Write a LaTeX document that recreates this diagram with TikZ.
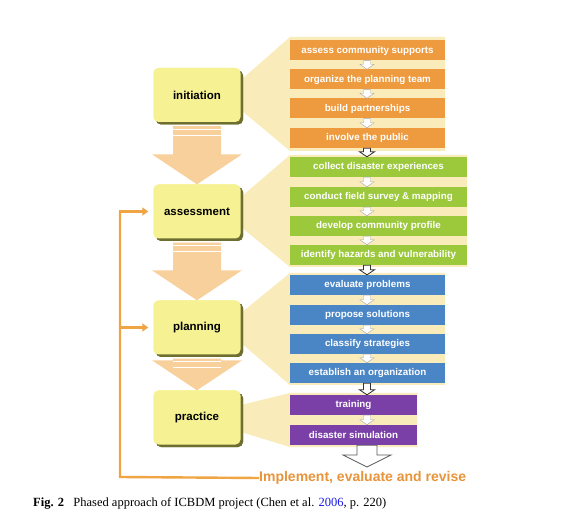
\documentclass[tikz,border=0pt]{standalone}
\usepackage{fontspec}
\setmainfont{Liberation Serif}
\newfontfamily\arialfont{Liberation Sans}
\usetikzlibrary{calc,shadows,arrows.meta}
\definecolor{cOrange}{HTML}{EE9A3E}
\definecolor{cGreen}{HTML}{9CC83C}
\definecolor{cBlue}{HTML}{4A86C6}
\definecolor{cPurple}{HTML}{7A40A8}
\definecolor{cFan}{HTML}{FAEBBA}
\definecolor{cBig}{HTML}{F8D09C}
\definecolor{cPhase}{HTML}{F6F293}
\definecolor{cShadow}{HTML}{6E6E30}
\definecolor{cFb}{HTML}{F0A545}
\definecolor{cFbText}{HTML}{E8943A}
\definecolor{cLink}{HTML}{1A1AE6}
\newcommand\dnarrow[6]{% style, top, bottom, shaft half width, head half width, head length
  \path[#1] let \p1=(#2), \p2=(#3) in
    (\x1-#4,\y1) -- (\x1+#4,\y1) -- (\x1+#4,\y2+#6) -- (\x1+#5,\y2+#6) --
    (\x1,\y2) -- (\x1-#5,\y2+#6) -- (\x1-#4,\y2+#6) -- cycle;}
\tikzset{
  phase/.style={draw=none, fill=cPhase, rounded corners=5pt, minimum width=87pt,
    minimum height=54pt, font=\arialfont\bfseries\fontsize{11.5}{13}\selectfont,
    drop shadow={shadow xshift=2.5pt, shadow yshift=-2.5pt, fill=cShadow, opacity=1}},
  rbox/.style={minimum height=20pt, inner sep=0pt, text=white,
    font=\arialfont\bfseries\fontsize{9.8}{11}\selectfont},
  obox/.style={rbox, fill=cOrange, minimum width=155pt},
  gbox/.style={rbox, fill=cGreen, minimum width=177pt},
  bbox/.style={rbox, fill=cBlue, minimum width=155pt},
  pbox/.style={rbox, fill=cPurple, minimum width=127pt},
  fan/.style={fill=cFan},
  bigarrow/.style={fill=cBig},
  smallarrow/.style={fill=white, draw=black!35, line width=0.4pt},
  grouparrow/.style={fill=white, draw=black!80, line width=0.8pt},
  finalarrow/.style={fill=white, draw=black!65, line width=0.8pt},
  fbline/.style={draw=cFb, line width=2.4pt},
  fbarrow/.style={fbline, -{Triangle[width=8pt,length=6pt]}},
}
\begin{document}
\begin{tikzpicture}[x=1pt,y=-1pt]
\useasboundingbox[fill=white] (0,0) rectangle (566,532);
% fans
\fill[cFan] (241,80) -- (290,37) -- (445,37) -- (445,151) -- (290,151) -- (241,110) -- cycle;
\fill[cFan] (241,197) -- (290,155) -- (467,155) -- (467,267) -- (290,267) -- (241,227) -- cycle;
\fill[cFan] (241,313) -- (290,273) -- (445,273) -- (445,385) -- (290,385) -- (241,343) -- cycle;
\fill[cFan] (241,405) -- (290,393) -- (417,393) -- (417,447) -- (290,447) -- (241,432) -- cycle;
% right boxes
\node[obox] (o1) at (367.5,50.5) {assess community supports};
\node[obox] (o2) at (367.5,79.5) {organize the planning team};
\node[obox] (o3) at (367.5,108.5) {build partnerships};
\node[obox] (o4) at (367.5,138) {involve the public};
\node[gbox] (g1) at (378.5,167) {collect disaster experiences};
\node[gbox] (g2) at (378.5,197) {conduct field survey \& mapping};
\node[gbox] (g3) at (378.5,226) {develop community profile};
\node[gbox] (g4) at (378.5,255) {identify hazards and vulnerability};
\node[bbox] (b1) at (367.5,285) {evaluate problems};
\node[bbox] (b2) at (367.5,315) {propose solutions};
\node[bbox] (b3) at (367.5,344) {classify strategies};
\node[bbox] (b4) at (367.5,373) {establish an organization};
\node[pbox] (p1) at (353.5,405) {training};
\node[pbox] (p2) at (353.5,435) {disaster simulation};
% small arrows inside groups
\foreach \a/\b in {o1/o2,o2/o3,o3/o4,g1/g2,g2/g3,g3/g4,b1/b2,b2/b3,b3/b4,p1/p2}{
  \dnarrow{smallarrow}{367,0 |- \a.south}{367,0 |- \b.north}{3.5pt}{7pt}{5pt}
}
% arrows between groups
\foreach \a/\b in {o4/g1,g4/b1,b4/p1}{
  \dnarrow{grouparrow}{367,0 |- \a.south}{367,0 |- \b.north}{3.5pt}{7.5pt}{5pt}
}
% phase boxes
\node[phase] (init) at (197,95) {initiation};
\node[phase] (assess) at (197,211.5) {assessment};
\node[phase] (plan) at (197,327.5) {planning};
\node[phase] (prac) at (197,417.5) {practice};
% big arrows between phases
\foreach \a/\b in {init/assess,assess/plan,plan/prac}{
  \dnarrow{bigarrow}{$(\a.south)+(0,4)$}{\b.north}{24pt}{45pt}{30pt}
  \draw[white,line width=1pt] ($(\a.south)+(-24,7)$) -- ($(\a.south)+(24,7)$);
  \draw[white,line width=1pt] ($(\a.south)+(-24,13)$) -- ($(\a.south)+(24,13)$);
}
% redraw phase boxes on top of arrow tips
\node[phase] at (init) {initiation};
\node[phase] at (assess) {assessment};
\node[phase] at (plan) {planning};
\node[phase] at (prac) {practice};
% final arrow
\coordinate (fend) at (367,467);
\dnarrow{finalarrow}{367,0 |- p2.south}{fend}{10pt}{24pt}{12pt}
% feedback loop
\node[anchor=west, inner sep=0pt, text=cFbText, font=\arialfont\bfseries\fontsize{14}{16}\selectfont] (impl) at (259,478) {Implement, evaluate and revise};
\coordinate (fbc) at (120,477);
\draw[fbline] (impl.west) -- (fbc) -- (fbc |- assess.west);
\draw[fbarrow] ([xshift=-1.2pt]fbc |- assess.west) -- ([xshift=-5pt]assess.west);
\draw[fbarrow] (fbc |- plan.west) -- ([xshift=-5pt]plan.west);
% caption
\node[anchor=west, inner sep=0pt, font=\fontsize{12.5}{14}\selectfont] (cap) at (33,503)
  {\textbf{Fig. 2}\hspace{0.75em}Phased approach of ICBDM project (Chen et al. \textcolor{cLink}{2006}, p. 220)};
\end{tikzpicture}
\end{document}
